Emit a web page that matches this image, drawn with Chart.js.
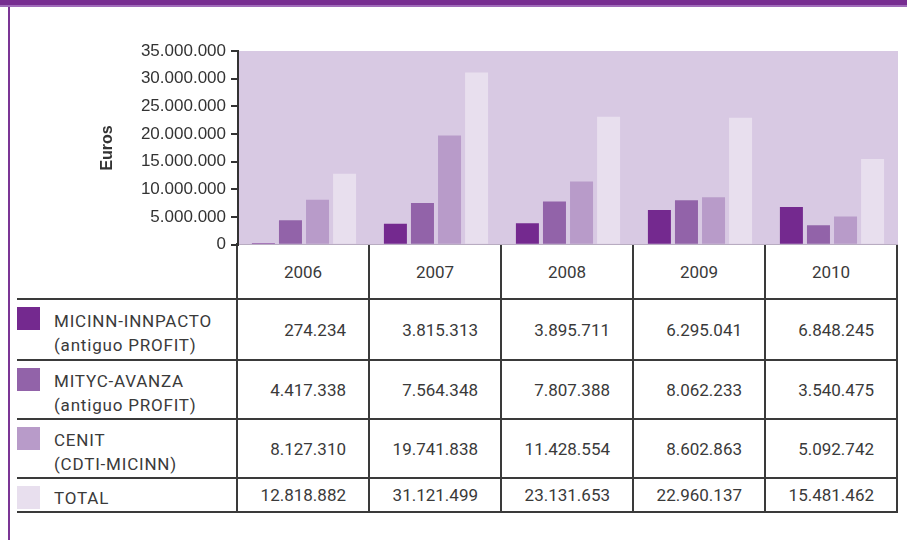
<!DOCTYPE html>
<html>
<head>
<meta charset="utf-8">
<script src="https://cdn.jsdelivr.net/npm/chart.js@4.4.0/dist/chart.umd.min.js"></script>
<style>
  body { margin: 0; background: #fff; width: 907px; height: 540px; overflow: hidden; position: relative; }
  #topbar { position: absolute; left: 0; top: 0; width: 907px; height: 5px; background: #772d91; }
  #topline { position: absolute; left: 0; top: 5px; width: 907px; height: 2px; background: #a06cba; }
  #leftline { position: absolute; left: 8px; top: 7px; width: 2px; height: 533px; background: #7b3595; }
  #chartbox { position: absolute; left: 0; top: 0; width: 907px; height: 260px; z-index: 2; }
  #tabla { position: absolute; left: 17px; top: 243px; border-collapse: collapse; table-layout: fixed; width: 880px;
    font-family: Roboto, sans-serif; font-size: 17px; color: #3a3a3a; }
  #tabla td { border: 2px solid #3a3a3a; padding: 0; }
  #tabla td.year { text-align: center; }
  #tabla td.num { text-align: right; padding-right: 22px; }
  #tabla td.lab { border-left: none; position: relative; padding-left: 37px; letter-spacing: 0.8px; line-height: 24px; padding-top: 6px; }
  #tabla td.empty { border-left: none; border-top: none; }
  .sw { position: absolute; left: 0; top: 7px; width: 23px; height: 23px; }
</style>
</head>
<body>
<div id="topbar"></div>
<div id="topline"></div>
<div id="leftline"></div>
<div id="chartbox"><canvas id="myChart" width="907" height="260"></canvas></div>
<table id="tabla"></table>
<script>
const years = ["2006", "2007", "2008", "2009", "2010"]
const seriesNames = [["MICINN-INNPACTO", "(antiguo PROFIT)"], ["MITYC-AVANZA", "(antiguo PROFIT)"], ["CENIT", "(CDTI-MICINN)"], ["TOTAL"]]
const micinn = [274234, 3815313, 3895711, 6295041, 6848245]
const mityc = [4417338, 7564348, 7807388, 8062233, 3540475]
const cenit = [8127310, 19741838, 11428554, 8602863, 5092742]
const total = [12818882, 31121499, 23131653, 22960137, 15481462]
const yMax = 35000000
const yStep = 5000000
const colors = ["#74298f", "#9263a9", "#b89bc9", "#e8dfee"]
const rowHeights = [61, 59, 59, 34]

function fmt(n) {
  return n.toString().replace(/\B(?=(\d{3})+(?!\d))/g, ".")
}

// tabla de datos debajo del grafico
const allSeries = [micinn, mityc, cenit, total]
let html = '<colgroup><col style="width:220px">'
for (let i = 0; i < years.length; i++) html += '<col style="width:132px">'
html += '</colgroup><tr style="height:55px"><td class="empty"></td>'
for (let i = 0; i < years.length; i++) html += '<td class="year">' + years[i] + '</td>'
html += '</tr>'
for (let s = 0; s < allSeries.length; s++) {
  html += '<tr style="height:' + rowHeights[s] + 'px"><td class="lab"><span class="sw" style="background:' + colors[s] + '"></span>' + seriesNames[s].join('<br>') + '</td>'
  for (let i = 0; i < years.length; i++) html += '<td class="num">' + fmt(allSeries[s][i]) + '</td>'
  html += '</tr>'
}
document.getElementById("tabla").innerHTML = html

// fondo del area del grafico
const plotBg = {
  id: 'plotBg',
  beforeDraw(chart) {
    const a = chart.chartArea
    const ctx = chart.ctx
    ctx.save()
    ctx.fillStyle = '#d8c9e3'
    ctx.fillRect(a.left + 1, a.top, a.right - a.left - 1, a.bottom - a.top)
    ctx.restore()
  }
}

const ctx = document.getElementById('myChart').getContext('2d')
const myChart = new Chart(ctx, {
  type: 'bar',
  data: {
    labels: years,
    datasets: allSeries.map((d, s) => ({
      label: seriesNames[s].join(' '),
      data: d,
      backgroundColor: colors[s],
      borderWidth: 0,
      categoryPercentage: 0.82,
      barPercentage: 0.85
    }))
  },
  options: {
    responsive: false,
    animation: false,
    layout: { padding: { top: 51, right: 9, bottom: 0, left: 0 } },
    plugins: { legend: { display: false }, tooltip: { enabled: false } },
    scales: {
      x: { display: false },
      y: {
        min: 0,
        max: yMax,
        afterFit(scale) { scale.width = 238 },
        ticks: {
          stepSize: yStep,
          callback: v => fmt(v),
          color: '#333',
          padding: 5,
          font: { family: 'Liberation Sans', size: 17 }
        },
        grid: { drawOnChartArea: false, tickLength: 7, color: '#333', lineWidth: 2 },
        border: { color: '#333', width: 2 },
        title: {
          display: true,
          text: 'Euros',
          color: '#333',
          padding: { top: 98 },
          font: { family: 'Liberation Sans', size: 16, weight: 'bold' }
        }
      }
    }
  },
  plugins: [plotBg]
})
</script>
</body>
</html>
